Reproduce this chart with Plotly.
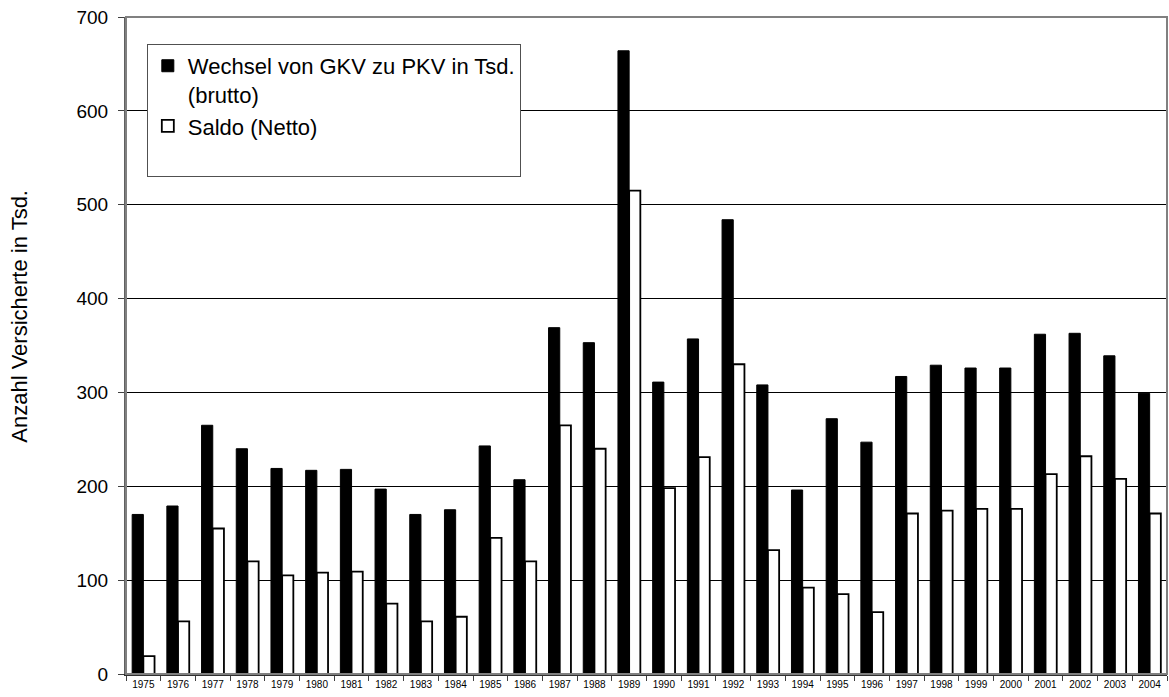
import plotly.graph_objects as go

years = [str(y) for y in range(1975, 2005)]
brutto = [170, 179, 265, 240, 219, 217, 218, 197, 170, 175, 243, 207, 369, 353, 664,
          311, 357, 484, 308, 196, 272, 247, 317, 329, 326, 326, 362, 363, 339, 299]
netto = [19, 56, 155, 120, 105, 108, 109, 75, 56, 61, 145, 120, 265, 240, 515,
         198, 231, 330, 132, 92, 85, 66, 171, 174, 176, 176, 213, 232, 208, 171]

name_brutto = "Wechsel von GKV zu PKV in Tsd.<br>(brutto)"
name_netto = "Saldo (Netto)<br> "
y_title = "Anzahl Versicherte in Tsd."
y_ticks = [0, 100, 200, 300, 400, 500, 600, 700]

FONT = "Liberation Sans, Arial, sans-serif"

fig = go.Figure()
fig.add_trace(go.Bar(x=years, y=brutto, name=name_brutto,
                     marker=dict(color="black", line=dict(color="black", width=1))))
fig.add_trace(go.Bar(x=years, y=netto, name=name_netto,
                     marker=dict(color="white", line=dict(color="black", width=1.8))))

fig.update_layout(
    width=1169, height=697,
    margin=dict(l=126, r=2, t=17, b=23),
    paper_bgcolor="white", plot_bgcolor="white",
    barmode="group", bargap=0.355, bargroupgap=0,
    font=dict(family=FONT, color="black"),
    legend=dict(x=0.02, y=0.959, xanchor="left", yanchor="top",
                bgcolor="white", bordercolor="#505050", borderwidth=1,
                font=dict(size=22, family=FONT, color="black"),
                valign="top", tracegroupgap=0, itemwidth=30),
    shapes=[dict(type="rect", xref="paper", yref="paper", x0=0, x1=1, y0=0, y1=1,
                 line=dict(color="#808080", width=2), layer="above")],
    annotations=[dict(text=y_title, xref="paper", yref="paper", x=-0.102, y=0.545,
                      xanchor="center", yanchor="middle", textangle=-90, showarrow=False,
                      font=dict(size=22, family=FONT, color="black"))],
)
fig.update_xaxes(type="category", tickson="boundaries", ticks="outside", ticklen=5,
                 tickcolor="#404040", showline=True, linecolor="#303030", linewidth=1.5,
                 showgrid=False, tickfont=dict(size=10, family=FONT, color="black"))
fig.update_yaxes(range=[0, 700], tickvals=y_ticks, ticks="outside", ticklen=6,
                 tickcolor="#404040", showline=True, linecolor="#606060", linewidth=2,
                 showgrid=True, gridcolor="black", gridwidth=1, zeroline=False,
                 ticklabelstandoff=6,
                 tickfont=dict(size=19, family=FONT, color="black"))

fig.write_html("out.html", config={"displayModeBar": False},
               post_script="document.body.style.margin='0';")
